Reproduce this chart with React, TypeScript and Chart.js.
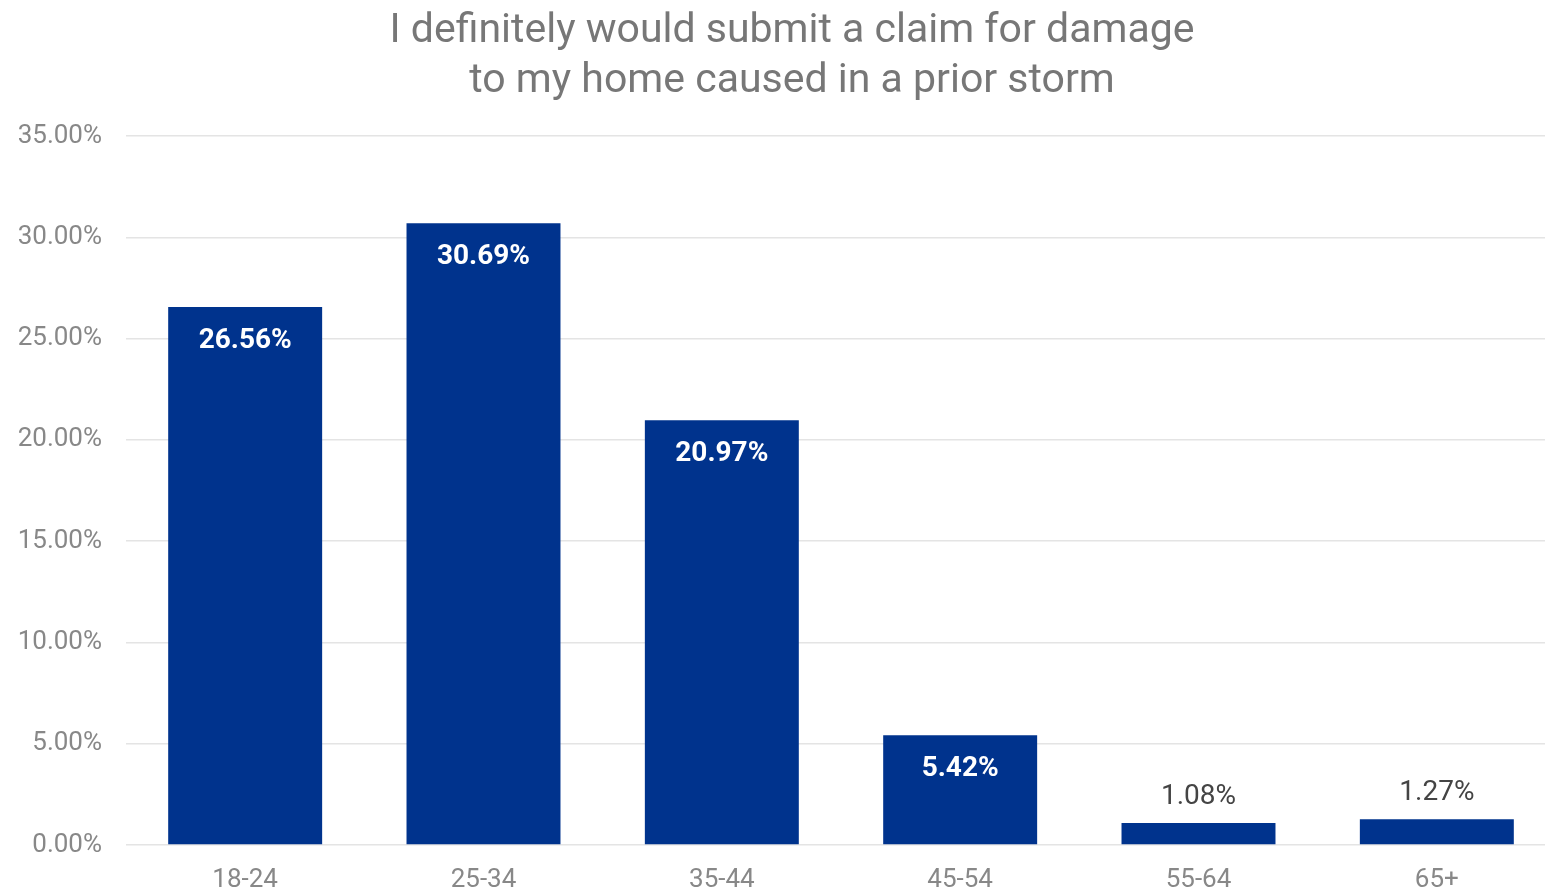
import React, { useEffect, useRef } from "react";
import { Chart, registerables } from "chart.js";

Chart.register(...registerables);

const categories = ["18-24", "25-34", "35-44", "45-54", "55-64", "65+"];
const values = [26.56, 30.69, 20.97, 5.42, 1.08, 1.27];
const titleLines = ["I definitely would submit a claim for damage", "to my home caused in a prior storm"];
const yTicks = [0, 5, 10, 15, 20, 25, 30, 35];

const barColor = "#00338D";

const valueLabels = {
  id: "valueLabels",
  afterDatasetsDraw(chart: any) {
    const ctx = chart.ctx;
    const meta = chart.getDatasetMeta(0);
    ctx.save();
    ctx.textAlign = "center";
    ctx.textBaseline = "middle";
    meta.data.forEach((bar: any, i: number) => {
      const v = values[i];
      const text = v.toFixed(2) + "%";
      if (v > 3) {
        ctx.fillStyle = "#ffffff";
        ctx.font = "bold 28px Roboto";
        ctx.fillText(text, bar.x, bar.y + 34);
      } else {
        ctx.fillStyle = "#444444";
        ctx.font = "28px Roboto";
        ctx.fillText(text, bar.x, bar.y - 26);
      }
    });
    ctx.restore();
  },
};

// Title drawn centred at the same offset as the reference
const titlePlugin = {
  id: "offsetTitle",
  afterDraw(chart: any) {
    const ctx = chart.ctx;
    ctx.save();
    ctx.textAlign = "center";
    ctx.textBaseline = "middle";
    ctx.fillStyle = "#777777";
    ctx.font = "41px Roboto";
    const cx = 792;
    titleLines.forEach((line, i) => {
      ctx.fillText(line, cx, 32 + i * 50);
    });
    ctx.restore();
  },
};

const CANVAS_W = 1556;

export default function App() {
  const ref = useRef<HTMLCanvasElement>(null);
  useEffect(() => {
    if (!ref.current) return;
    const chart = new Chart(ref.current, {
      type: "bar",
      data: {
        labels: categories,
        datasets: [
          {
            data: values,
            backgroundColor: barColor,
            borderWidth: 0,
            categoryPercentage: 1,
            barPercentage: 0.646,
          },
        ],
      },
      options: {
        animation: false,
        responsive: false,
        maintainAspectRatio: false,
        layout: { padding: { left: 0, right: 0, top: 136, bottom: 0 } },
        plugins: {
          legend: { display: false },
          tooltip: { enabled: false },
          title: { display: false },
        },
        scales: {
          x: {
            grid: { display: false, drawTicks: false },
            border: { display: false },
            ticks: {
              color: "#888888",
              font: { family: "Roboto", size: 26 },
              padding: 20,
              maxRotation: 0,
            },
            afterFit(scale: any) {
              scale.height = 48;
            },
          },
          y: {
            min: 0,
            max: 35,
            afterBuildTicks(scale: any) {
              scale.ticks = yTicks.map((v) => ({ value: v }));
            },
            grid: { color: "#e4e4e4", lineWidth: 1.5, drawTicks: false },
            border: { display: false },
            ticks: {
              color: "#888888",
              font: { family: "Roboto", size: 26 },
              padding: 24,
              callback: (v: any) => Number(v).toFixed(2) + "%",
            },
            afterFit(scale: any) {
              scale.width = 126;
            },
          },
        },
      } as any,
      plugins: [valueLabels, titlePlugin],
    });
    return () => chart.destroy();
  }, []);
  return (
    <div
      style={{
        position: "absolute",
        left: 0,
        top: 0,
        width: 1545,
        height: 893,
        overflow: "hidden",
        background: "#fff",
      }}
    >
      <canvas ref={ref} width={CANVAS_W} height={893} style={{ width: CANVAS_W, height: 893, display: "block" }} />
    </div>
  );
}
